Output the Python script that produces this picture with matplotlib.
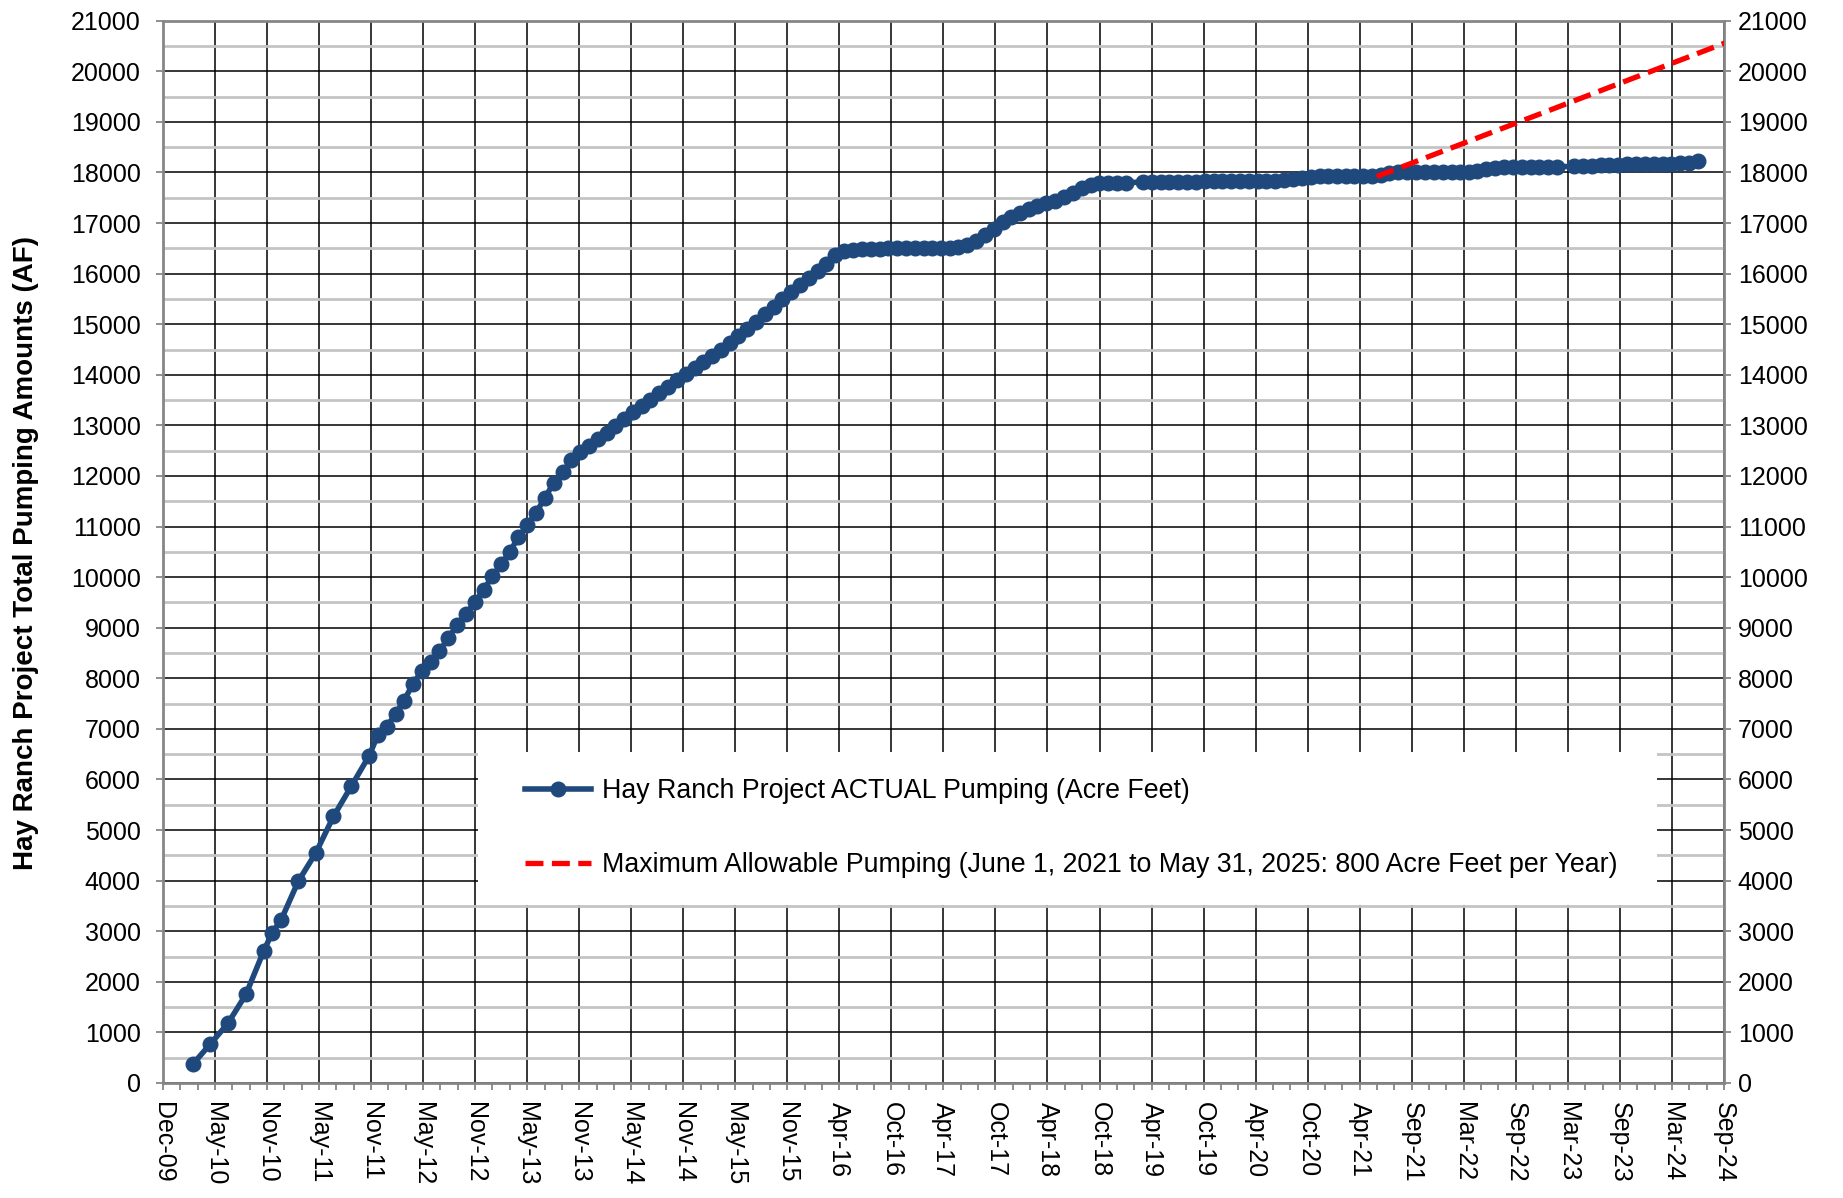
import datetime as dt

import matplotlib
matplotlib.use("Agg")
import matplotlib.pyplot as plt
import matplotlib.dates as mdates
from matplotlib.ticker import FixedLocator, MultipleLocator
from matplotlib.patches import Rectangle

plt.rcParams['font.family'] = ['Liberation Sans', 'DejaVu Sans']

# cumulative pumping, acre feet (one point per month)
months = [
    "2010-03", "2010-05", "2010-07", "2010-09", "2010-11", "2010-12",
    "2011-01", "2011-03", "2011-05", "2011-07", "2011-09", "2011-11", "2011-12",
    "2012-01", "2012-02", "2012-03", "2012-04", "2012-05", "2012-06",
    "2012-07", "2012-08", "2012-09", "2012-10", "2012-11", "2012-12",
    "2013-01", "2013-02", "2013-03", "2013-04", "2013-05", "2013-06",
    "2013-07", "2013-08", "2013-09", "2013-10", "2013-11", "2013-12",
    "2014-01", "2014-02", "2014-03", "2014-04", "2014-05", "2014-06",
    "2014-07", "2014-08", "2014-09", "2014-10", "2014-11", "2014-12",
    "2015-01", "2015-02", "2015-03", "2015-04", "2015-05", "2015-06",
    "2015-07", "2015-08", "2015-09", "2015-10", "2015-11", "2015-12",
    "2016-01", "2016-02", "2016-03", "2016-04", "2016-05", "2016-06",
    "2016-07", "2016-08", "2016-09", "2016-10", "2016-11", "2016-12",
    "2017-01", "2017-02", "2017-03", "2017-04", "2017-05", "2017-06",
    "2017-07", "2017-08", "2017-09", "2017-10", "2017-11", "2017-12",
    "2018-01", "2018-02", "2018-03", "2018-04", "2018-05", "2018-06",
    "2018-07", "2018-08", "2018-09", "2018-10", "2018-11", "2018-12",
    "2019-01", "2019-03", "2019-04", "2019-05", "2019-06",
    "2019-07", "2019-08", "2019-09", "2019-10", "2019-11", "2019-12",
    "2020-01", "2020-02", "2020-03", "2020-04", "2020-05", "2020-06",
    "2020-07", "2020-08", "2020-09", "2020-10", "2020-11", "2020-12",
    "2021-01", "2021-02", "2021-03", "2021-04", "2021-05", "2021-06",
    "2021-07", "2021-08", "2021-09", "2021-10", "2021-11", "2021-12",
    "2022-01", "2022-02", "2022-03", "2022-04", "2022-05", "2022-06",
    "2022-07", "2022-08", "2022-09", "2022-10", "2022-11", "2022-12",
    "2023-01", "2023-02", "2023-04", "2023-05", "2023-06",
    "2023-07", "2023-08", "2023-09", "2023-10", "2023-11", "2023-12",
    "2024-01", "2024-02", "2024-03", "2024-04", "2024-05", "2024-06",
]
actual_af = [
    370, 770, 1180, 1750, 2600, 2970,
    3225, 3985, 4550, 5270, 5870, 6465, 6875,
    7040, 7300, 7560, 7890, 8135, 8330,
    8535, 8790, 9060, 9270, 9500, 9740,
    10025, 10255, 10500, 10785, 11025, 11275,
    11565, 11865, 12070, 12315, 12480, 12600,
    12730, 12850, 12990, 13120, 13260, 13390,
    13510, 13640, 13760, 13890, 14010, 14130,
    14250, 14370, 14500, 14630, 14760, 14900,
    15050, 15200, 15350, 15500, 15640, 15780,
    15920, 16060, 16200, 16370, 16450, 16470,
    16480, 16490, 16495, 16500, 16500, 16500,
    16500, 16500, 16500, 16505, 16510, 16530,
    16565, 16640, 16760, 16890, 17020, 17110,
    17200, 17270, 17340, 17390, 17440, 17520,
    17600, 17690, 17760, 17790, 17800, 17800,
    17800, 17810, 17810, 17815, 17815,
    17820, 17820, 17820, 17825, 17825, 17825,
    17830, 17830, 17830, 17830, 17835, 17840,
    17850, 17870, 17900, 17920, 17925, 17930,
    17930, 17930, 17935, 17935, 17940, 17960,
    17985, 18000, 18005, 18010, 18010, 18010,
    18010, 18010, 18010, 18015, 18030, 18060,
    18090, 18100, 18105, 18110, 18110, 18110,
    18110, 18115, 18120, 18125, 18130,
    18140, 18150, 18155, 18160, 18160, 18160,
    18160, 18165, 18170, 18180, 18195, 18225,
]

# maximum allowable pumping: June 1, 2021 to May 31, 2025 at 800 AF per year
max_dates = ["2021-06-01", "2025-05-31"]
max_af = [17920, 21120]

label_actual = "Hay Ranch Project ACTUAL Pumping (Acre Feet)"
label_max = ("Maximum Allowable Pumping (June 1, 2021 to May 31, 2025: "
             "800 Acre Feet per Year)")
y_label = "Hay Ranch Project Total Pumping Amounts (AF)"

blue = "#1F497D"
red = "#FF0000"
spine_gray = "#868686"

x_actual = [dt.datetime.strptime(m + "-15", "%Y-%m-%d") for m in months]
x_max = [dt.datetime.strptime(d, "%Y-%m-%d") for d in max_dates]

fig = plt.figure(figsize=(18.43, 11.98), dpi=100)
ax = fig.add_axes([0.0884, 0.096, 0.847, 0.8867])

ax.plot(x_actual, actual_af, color=blue, lw=4, marker="o", markersize=10.5,
        markeredgecolor=blue, label=label_actual, zorder=3)
ax.plot(x_max, max_af, color=red, lw=3.8, dashes=(3.4, 1.6),
        label=label_max, zorder=4)

# date axis like Excel: starts Dec 2 2009, major unit 180 days
x0 = mdates.date2num(dt.datetime(2009, 12, 2))
ax.set_xlim(x0, x0 + 5400)
ax.set_ylim(0, 21000)
ax.xaxis.set_major_locator(FixedLocator([x0 + 180 * k for k in range(31)]))
ax.xaxis.set_minor_locator(FixedLocator([x0 + 60 * k for k in range(91)]))
ax.xaxis.set_major_formatter(mdates.DateFormatter("%b-%y"))
ax.yaxis.set_major_locator(MultipleLocator(1000))
ax.yaxis.set_minor_locator(MultipleLocator(500))

ax.set_axisbelow(True)
ax.grid(which="major", axis="both", color="black", lw=1.1)
ax.yaxis.grid(which="minor", color="#C4C4C4", lw=2)

for side in ["left", "right", "bottom", "top"]:
    ax.spines[side].set_color(spine_gray)
    ax.spines[side].set_linewidth(2)

ax.tick_params(axis="x", which="both", direction="out", length=5,
               color=spine_gray, width=1.3, labelsize=18, pad=9)
ax.tick_params(axis="y", which="major", direction="out", length=5,
               color=spine_gray, width=1.3, labelsize=18, pad=11)
ax.tick_params(axis="y", which="minor", length=0)
plt.setp(ax.get_xticklabels(), rotation=270, ha="center", va="top")

ax2 = ax.twinx()
ax2.set_ylim(0, 21000)
ax2.yaxis.set_major_locator(MultipleLocator(1000))
ax2.tick_params(axis="y", direction="out", length=5, color=spine_gray,
                width=1.3, labelsize=18, pad=5)
for side in ["left", "right", "bottom", "top"]:
    ax2.spines[side].set_visible(False)

# white box behind the legend, hides the grid
ax.add_patch(Rectangle((0.2018, 0.1675), 0.7553, 0.1439, transform=ax.transAxes,
                       facecolor="white", edgecolor="none", zorder=1))
ax.legend(loc="center left", bbox_to_anchor=(0.2319, 0.2399), frameon=False,
          fontsize=19.3, handlelength=2.45, handletextpad=0.42, labelspacing=1.8,
          borderpad=0, borderaxespad=0)

fig.text(0.0141, 0.538, y_label, rotation=90, ha="center", va="center",
         fontsize=20, fontweight="bold")

fig.savefig("out.png", dpi=100)
